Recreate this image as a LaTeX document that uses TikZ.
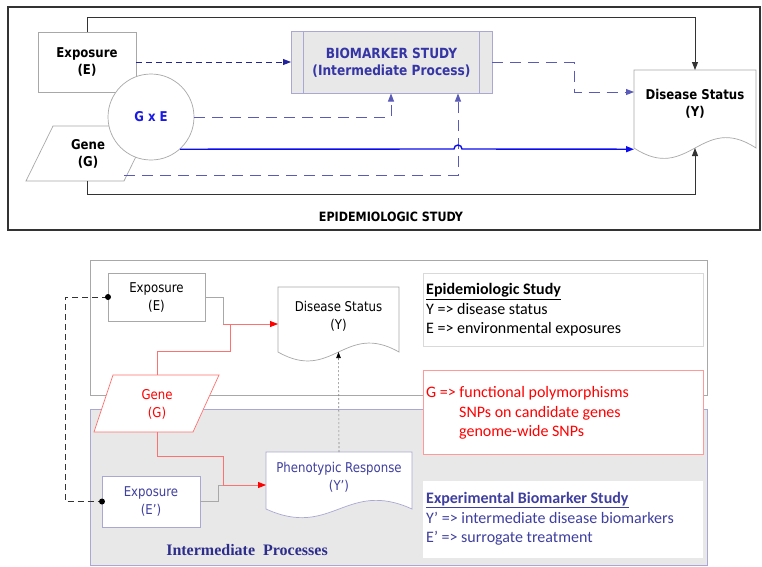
\documentclass[tikz,border=0pt]{standalone}
\usepackage{fontspec}
\setmainfont{DejaVu Sans}
\newfontfamily\tah{DejaVu Sans}[FakeStretch=0.87]
\newfontfamily\calfont{Carlito}
\newfontfamily\tmsfont{Liberation Serif}
\usetikzlibrary{arrows.meta,calc}
\definecolor{navyd}{HTML}{22229A}
\definecolor{lbd}{HTML}{5A5AB8}
\definecolor{solidb}{HTML}{0B0BF0}
\definecolor{biotxt}{HTML}{3535A5}
\definecolor{gxetxt}{HTML}{1A1AE8}
\definecolor{biofill}{HTML}{E8E8E8}
\definecolor{biobord}{HTML}{A8A8D4}
\definecolor{gbord}{HTML}{A8A8A8}
\definecolor{redl}{HTML}{FF7070}
\definecolor{redbord}{HTML}{FF9A9A}
\definecolor{bluetxt}{HTML}{3F3FA0}
\definecolor{frame}{HTML}{333333}
\newcommand\docpath[3]{%
  \draw[#3] (#1.north west) -- (#1.north east) -- (#1.south east)
    .. controls ($(#1.south east)!0.45!(#1.south west)+(0,-#2)$)
    and ($(#1.south west)!0.45!(#1.south east)+(0,#2)$) .. (#1.south west) -- cycle;}
\begin{document}
\begin{tikzpicture}[x=1pt,y=-1pt,
  topfont/.style={font=\tah\bfseries\fontsize{13.5}{17.5}\selectfont, align=center},
  botfont/.style={font=\tah\fontsize{13.5}{18}\selectfont, align=center},
  plain/.style={inner sep=0pt, outer sep=0pt},
  gbox/.style={plain, draw=gbord, fill=white, line width=0.7pt},
  tipA/.style={-{Triangle[length=8pt,width=6pt]}},
  navydash/.style={navyd, line width=0.9pt, dash pattern=on 6pt off 4pt, tipA},
  lightdash/.style={lbd, line width=0.9pt, dash pattern=on 11pt off 7pt, tipA},
  blackline/.style={frame, line width=0.9pt, tipA},
  redline/.style={redl, line width=0.8pt},
  redtip/.style={-{Triangle[length=8pt,width=6pt,color=red]}},
  grayline/.style={gbord, line width=0.8pt},
  rtxt/.style={font=\calfont\fontsize{16}{19.5}\selectfont, align=left, anchor=west, inner sep=0pt}
]
\useasboundingbox (0,0) rectangle (762,566);
\fill[white] (0,0) rectangle (762,566);

% ================= TOP PANEL =================
\draw[frame, line width=2pt] (8,7) rectangle (760,230);

\node[gbox, minimum width=98pt, minimum height=60pt, topfont] (exp) at (87,62) {Exposure\\(E)};

\draw[gbord, fill=white, line width=0.7pt] (53,126) -- (151,126) -- (124,181) -- (26,181) -- cycle;
\node[topfont] (gene) at (88,154) {Gene\\(G)};
\coordinate (gb) at (87,181);
\coordinate (gr) at (124,175);

\node[circle, draw=gbord, fill=white, line width=0.7pt, minimum size=86pt, inner sep=0pt,
      text=gxetxt, font=\tah\bfseries\fontsize{13.5}{16}\selectfont] (gxe) at (151,117) {G x E};

\node[plain, draw=biobord, fill=biofill, line width=0.7pt, minimum width=201pt, minimum height=62pt,
      text=biotxt, font=\tah\bfseries\fontsize{14}{17.5}\selectfont, align=center] (bio) at (391.5,62.5)
      {BIOMARKER STUDY\\(Intermediate Process)};
\draw[biobord, line width=0.7pt] ($(bio.north west)+(12,0)$) -- ($(bio.south west)+(12,0)$);
\draw[biobord, line width=0.7pt] ($(bio.north east)+(-13,0)$) -- ($(bio.south east)+(-13,0)$);

\node[plain, minimum width=122pt, minimum height=78pt] (ds) at (695,109) {};
\docpath{ds}{36}{gbord, fill=white, line width=0.7pt}
\node[topfont] (dst) at (695,104) {Disease Status\\(Y)};

\node[font=\tah\bfseries\fontsize{12.8}{14}\selectfont] (epi) at (391,217) {EPIDEMIOLOGIC STUDY};

% top connectors
\draw[navydash] (exp.east) -- (exp.east -| bio.west);
\draw[lightdash] (gxe.east) -| ($(bio.south west)+(100,0)$);
\draw[lightdash] (gr) -| ($(bio.south west)+(167,0)$);
\draw[solidb, line width=1.4pt, tipA] (gxe.-48) -- (454,149) arc[start angle=180, end angle=360, radius=4] -- (gxe.-48 -| ds.west);
\draw[lightdash] (bio.east) -| ($(ds.north west)+(-60,22)$) -- ($(ds.north west)+(0,22)$);
\draw[blackline] (exp.north) -- (87,17) -| (ds.north);
\draw[blackline] (gb) -- (87,194) -| (ds.south);

% ================= BOTTOM PANEL =================
\draw[gbord, fill=white, line width=0.8pt] (90,260) rectangle (707,395);
\draw[biobord, fill=biofill, line width=0.8pt] (90,409) rectangle (707,565);

\node[plain, draw=gray!30, fill=white, line width=0.7pt, minimum width=280pt, minimum height=73pt] (epibox) at (563,309.5) {};
\node[rtxt] (epitxt) at (426,310) {\textbf{\underline{Epidemiologic Study}}\\Y => disease status\\E => environmental exposures};

\node[plain, draw=redbord, fill=white, line width=0.7pt, minimum width=280pt, minimum height=84pt] (gbox2) at (563,412) {};
\node[rtxt, text=red] (gtxt) at (426,413) {G => functional polymorphisms\\\hspace*{33pt}SNPs on candidate genes\\\hspace*{33pt}genome-wide SNPs};

\node[plain, fill=white, minimum width=280pt, minimum height=77pt] (bbox) at (563,519.5) {};
\node[rtxt, text=bluetxt] (btxt) at (426,519) {\textbf{\underline{Experimental Biomarker Study}}\\Y’ => intermediate disease biomarkers\\E’ => surrogate treatment};

\node[gbox, minimum width=97pt, minimum height=48pt, botfont] (e2) at (156.5,297) {Exposure\\(E)};

\node[plain, minimum width=121pt, minimum height=65pt] (ds2) at (338.5,319.5) {};
\docpath{ds2}{31}{gbord, fill=white, line width=0.7pt}
\node[botfont] (ds2t) at (338.5,316) {Disease Status\\(Y)};

\draw[redl, fill=white, line width=0.7pt] (113,375) -- (219,375) -- (193,432) -- (94,432) -- cycle;
\node[botfont, text=red] (g2) at (157,404.5) {Gene\\(G)};
\coordinate (g2t) at (157,375);
\coordinate (g2b) at (157,432);

\node[plain, draw=biobord, fill=white, line width=0.7pt, minimum width=98pt, minimum height=51pt,
      botfont, text=bluetxt] (ep) at (151,501.5) {Exposure\\(E’)};

\node[plain, minimum width=146pt, minimum height=57pt] (ph) at (339,480.5) {};
\docpath{ph}{30}{biobord, fill=white, line width=0.7pt}
\node[botfont, text=bluetxt] (pht) at (339,477.5) {Phenotypic Response\\(Y’)};

\node[font=\tmsfont\bfseries\fontsize{16}{19}\selectfont, text=biotxt!85!black] (ip) at (247,550) {Intermediate~ Processes};

% bottom connectors
\coordinate (j1) at (223,324);
\coordinate (j2) at (223,485);
\draw[grayline] (e2.east) -| (j1);
\draw[redline] (g2t) |- (230,351) -- (230,324) -- (j1);
\draw[redline, redtip] (j1) -- (j1 -| ds2.west);
\draw[redline] (g2b) |- ($(j2)+(0,-29)$) -- (j2);
\draw[redline, redtip] (j2) -- (j2 -| ph.west);
\draw[grayline] (ep.east) -- (218,501.5) |- (j2);
\draw[gray, line width=0.6pt, dash pattern=on 2pt off 2pt, -{Triangle[length=6pt,width=4.5pt,color=black]}] (ph.north) -- (ds2.south);
\draw[frame, line width=1pt, dash pattern=on 6pt off 4pt] (e2.west) -- (65,297) |- (ep.west);
\fill[black] (e2.west) circle[radius=3];
\fill[black] (ep.west) circle[radius=3];
\end{tikzpicture}
\end{document}
